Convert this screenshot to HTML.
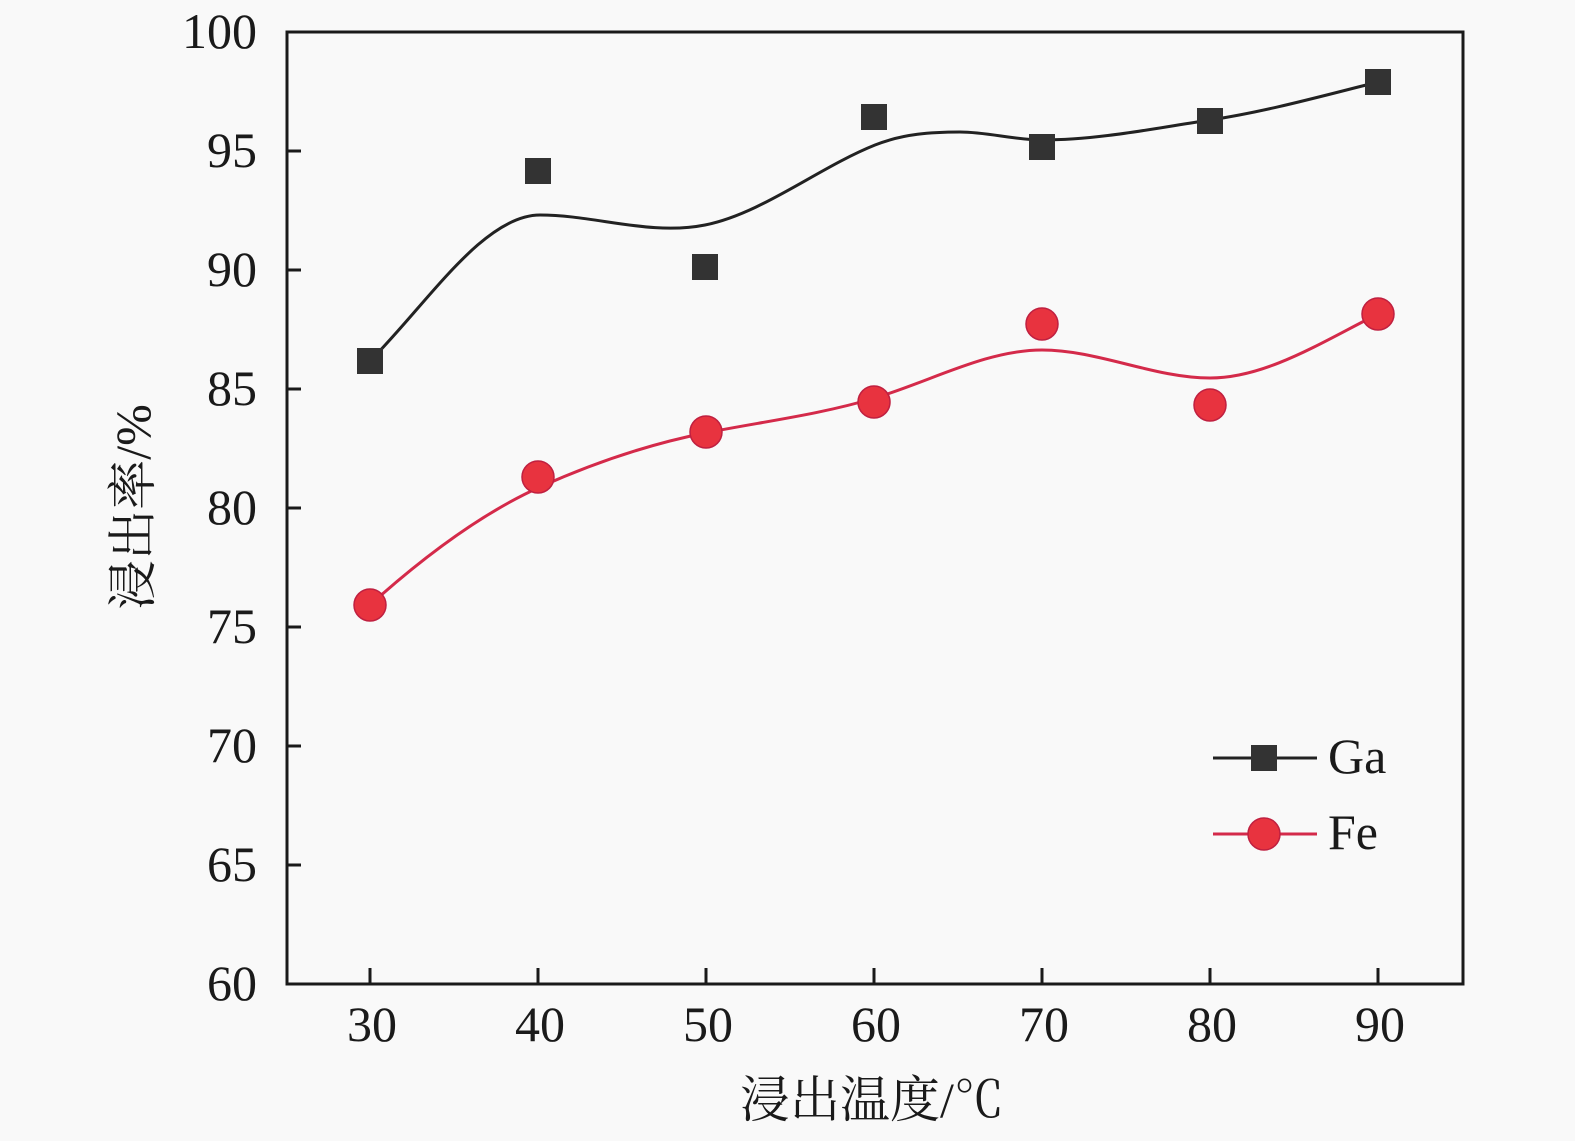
<!DOCTYPE html>
<html><head><meta charset="utf-8"><style>
html,body{margin:0;padding:0;background:#f9f9f9;}
svg{display:block}
text{font-family:"Liberation Serif","Noto Serif CJK SC",serif;fill:#1a1a1a}
</style></head><body>
<svg width="1575" height="1141" viewBox="0 0 1575 1141" xmlns="http://www.w3.org/2000/svg">
<rect width="1575" height="1141" fill="#f9f9f9"/>
<rect x="287" y="32" width="1176" height="952" fill="none" stroke="#1a1a1a" stroke-width="3"/>
<g stroke="#1a1a1a" stroke-width="3">
<line x1="287" y1="151" x2="301" y2="151"/><line x1="287" y1="270" x2="301" y2="270"/>
<line x1="287" y1="389" x2="301" y2="389"/><line x1="287" y1="508" x2="301" y2="508"/>
<line x1="287" y1="627" x2="301" y2="627"/><line x1="287" y1="746" x2="301" y2="746"/>
<line x1="287" y1="865" x2="301" y2="865"/>
<line x1="370" y1="984" x2="370" y2="968"/><line x1="538" y1="984" x2="538" y2="968"/>
<line x1="706" y1="984" x2="706" y2="968"/><line x1="874" y1="984" x2="874" y2="968"/>
<line x1="1042" y1="984" x2="1042" y2="968"/><line x1="1210" y1="984" x2="1210" y2="968"/>
<line x1="1378" y1="984" x2="1378" y2="968"/>
</g>
<g font-size="50" text-anchor="end">
<text x="257" y="48">100</text><text x="257" y="167">95</text><text x="257" y="286">90</text>
<text x="257" y="405">85</text><text x="257" y="524">80</text><text x="257" y="643">75</text>
<text x="257" y="762">70</text><text x="257" y="881">65</text><text x="257" y="1000">60</text>
</g>
<g font-size="50" text-anchor="middle">
<text x="372" y="1041">30</text><text x="540" y="1041">40</text><text x="708" y="1041">50</text>
<text x="876" y="1041">60</text><text x="1044" y="1041">70</text><text x="1212" y="1041">80</text>
<text x="1380" y="1041">90</text>
</g>
<text x="872" y="1117" font-size="50" text-anchor="middle">浸出温度/℃</text>
<text transform="translate(150,507) rotate(-90)" font-size="50" text-anchor="middle">浸出率/%</text>
<path d="M370,361 C426.7,304.3 483.3,215 540,215 C595,215 650,236 705,225 C761.7,213.7 818.3,167.7 875,145 C903.3,133.7 931.7,132 960,132 C987.3,132 1014.7,140 1042,140 C1098,140 1154,128.4 1210,120 C1266,111.6 1322,96 1378,82" fill="none" stroke="#222" stroke-width="3"/>
<path d="M370,605 C426.7,554 483.3,512.5 540,487 C595,462.3 650,444 705,433 C761.7,421.7 818.3,415 875,398 C930.7,381.3 986.3,350 1042,350 C1098,350 1154,378 1210,378 C1266,378 1322,342 1378,314" fill="none" stroke="#d42a4a" stroke-width="3"/>
<g fill="#333">
<rect x="357" y="348" width="26" height="26"/><rect x="525" y="158" width="26" height="26"/>
<rect x="692" y="254" width="26" height="26"/><rect x="861" y="104" width="26" height="26"/>
<rect x="1029" y="134" width="26" height="26"/><rect x="1197" y="108" width="26" height="26"/>
<rect x="1365" y="69" width="26" height="26"/>
</g>
<g fill="#e8333f" stroke="#c02040" stroke-width="1.5">
<circle cx="370" cy="605" r="16"/><circle cx="538" cy="477" r="16"/><circle cx="706" cy="432" r="16"/>
<circle cx="874" cy="402" r="16"/><circle cx="1042" cy="324" r="16"/><circle cx="1210" cy="405" r="16"/>
<circle cx="1378" cy="314" r="16"/>
</g>
<line x1="1213" y1="758" x2="1317" y2="758" stroke="#222" stroke-width="3"/>
<rect x="1251" y="745" width="26" height="26" fill="#333"/>
<text x="1328" y="773" font-size="50">Ga</text>
<line x1="1213" y1="834" x2="1317" y2="834" stroke="#d42a4a" stroke-width="3"/>
<circle cx="1264" cy="834" r="16" fill="#e8333f" stroke="#c02040" stroke-width="1.5"/>
<text x="1328" y="849" font-size="50">Fe</text>
</svg>
</body></html>
